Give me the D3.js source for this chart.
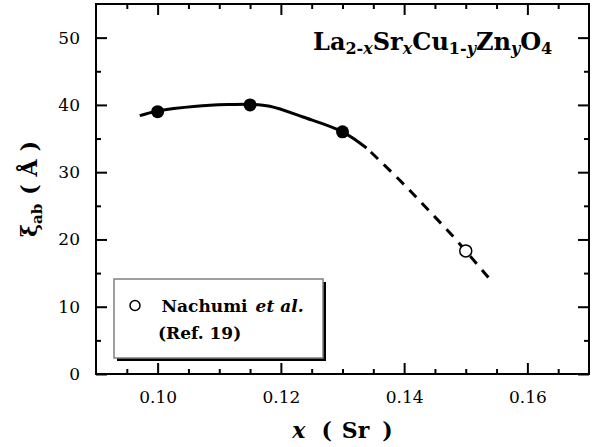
<!DOCTYPE html>
<html>
<head>
<meta charset="utf-8">
<script src="https://cdn.jsdelivr.net/npm/d3@7"></script>
<style>
  html, body { margin: 0; padding: 0; background: #fff; }
  svg { display: block; }
</style>
</head>
<body>
<svg id="chart" width="593" height="447"></svg>
<script>
// ---- data ----
const xDomain = [0.09, 0.17];
const yDomain = [0, 55];
const xMajorTicks = [0.10, 0.12, 0.14, 0.16];
const xMinorTicks = [0.095, 0.105, 0.11, 0.115, 0.125, 0.13, 0.135, 0.145, 0.15, 0.155, 0.165];
const yMajorTicks = [0, 10, 20, 30, 40, 50];
const yMinorTicks = [5, 15, 25, 35, 45];

// measured points (filled) and Nachumi et al. (open)
const filledX = [0.100, 0.115, 0.130];
const filledY = [39.0, 40.0, 36.0];
const openX = [0.150];
const openY = [18.3];

// guide-to-the-eye curve: solid part and dashed extrapolation
const solidX = [0.0971, 0.100, 0.1063, 0.1117, 0.115, 0.1182, 0.1236, 0.130, 0.1339];
const solidY = [38.4, 39.1, 39.8, 40.05, 40.1, 39.8, 38.2, 36.0, 33.6];
const dashX = [0.1339, 0.1393, 0.1437, 0.148, 0.150, 0.1538];
const dashY = [33.6, 28.8, 24.6, 20.4, 18.3, 14.2];

const legendLines = ["Nachumi", "et al.", "(Ref. 19)"];

// ---- layout ----
const L = 96, R = 589, T = 4, B = 374;
const svg = d3.select("#chart");
const x = d3.scaleLinear().domain(xDomain).range([L, R]);
const y = d3.scaleLinear().domain(yDomain).range([B, T]);

const FONT = '"DejaVu Serif", serif';
const MAJ = 11, MIN = 5;

function styleAxis(g) {
  g.select(".domain").remove();
  g.selectAll(".tick line").attr("stroke", "#000").attr("stroke-width", 2);
  g.selectAll("text").attr("fill", "#000").style("font-family", FONT).style("font-size", "17px");
}

// bottom
svg.append("g").attr("transform", `translate(0,${B})`)
  .call(d3.axisBottom(x).tickValues(xMajorTicks).tickSize(-MAJ).tickPadding(17).tickFormat(d3.format(".2f")))
  .call(styleAxis);
svg.append("g").attr("transform", `translate(0,${B})`)
  .call(d3.axisBottom(x).tickValues(xMinorTicks).tickSize(-MIN).tickFormat(""))
  .call(styleAxis);
// top
svg.append("g").attr("transform", `translate(0,${T})`)
  .call(d3.axisTop(x).tickValues(xMajorTicks).tickSize(-MAJ).tickFormat(""))
  .call(styleAxis);
svg.append("g").attr("transform", `translate(0,${T})`)
  .call(d3.axisTop(x).tickValues(xMinorTicks).tickSize(-MIN).tickFormat(""))
  .call(styleAxis);
// left
svg.append("g").attr("transform", `translate(${L},0)`)
  .call(d3.axisLeft(y).tickValues(yMajorTicks).tickSize(-MAJ).tickPadding(16).tickFormat(d3.format("d")))
  .call(styleAxis);
svg.append("g").attr("transform", `translate(${L},0)`)
  .call(d3.axisLeft(y).tickValues(yMinorTicks).tickSize(-MIN).tickFormat(""))
  .call(styleAxis);
// right
svg.append("g").attr("transform", `translate(${R},0)`)
  .call(d3.axisRight(y).tickValues(yMajorTicks).tickSize(-MAJ).tickFormat(""))
  .call(styleAxis);
svg.append("g").attr("transform", `translate(${R},0)`)
  .call(d3.axisRight(y).tickValues(yMinorTicks).tickSize(-MIN).tickFormat(""))
  .call(styleAxis);

// frame
svg.append("rect").attr("x", L).attr("y", T).attr("width", R - L).attr("height", B - T)
  .attr("fill", "none").attr("stroke", "#000").attr("stroke-width", 2);

// curves
const line = d3.line().x(d => x(d[0])).y(d => y(d[1])).curve(d3.curveCatmullRom.alpha(0.5));
svg.append("path").datum(d3.zip(solidX, solidY)).attr("d", line)
  .attr("fill", "none").attr("stroke", "#000").attr("stroke-width", 3);
svg.append("path").datum(d3.zip(dashX, dashY)).attr("d", line)
  .attr("fill", "none").attr("stroke", "#000").attr("stroke-width", 3)
  .attr("stroke-dasharray", "10,8").attr("stroke-dashoffset", -6);

// points
svg.append("g").selectAll("circle").data(d3.zip(filledX, filledY)).join("circle")
  .attr("cx", d => x(d[0])).attr("cy", d => y(d[1])).attr("r", 6.5).attr("fill", "#000");
svg.append("g").selectAll("circle").data(d3.zip(openX, openY)).join("circle")
  .attr("cx", d => x(d[0])).attr("cy", d => y(d[1])).attr("r", 6)
  .attr("fill", "#fff").attr("stroke", "#000").attr("stroke-width", 1.5);

// compound title
const titleParts = [["La",0,0],["2-",1,0],["x",1,1],["Sr",0,0],["x",1,1],["Cu",0,0],["1-",1,0],["y",1,1],["Zn",0,0],["y",1,1],["O",0,0],["4",1,0]];
const title = svg.append("text").attr("x", 313).attr("y", 50)
  .style("font-family", FONT).style("font-weight", "bold").style("font-size", "24px").attr("fill", "#000");
let prevSub = 0;
titleParts.forEach(([t, sub, it]) => {
  const ts = title.append("tspan").text(t);
  const shift = (sub ? 4 : 0) - (prevSub ? 4 : 0);
  if (shift) ts.attr("dy", shift);
  if (sub) ts.style("font-size", "16px");
  if (it) ts.style("font-style", "italic");
  prevSub = sub;
});

// x-axis title
const xt = svg.append("text").attr("x", (L + R) / 2).attr("y", 438).attr("text-anchor", "middle")
  .style("font-family", FONT).style("font-weight", "bold").style("font-size", "22px").attr("fill", "#000");
xt.append("tspan").text("x").style("font-style", "italic");
xt.append("tspan").attr("dx", 16).text("(");
xt.append("tspan").attr("dx", 10).text("Sr");
xt.append("tspan").attr("dx", 13).text(")");

// y-axis title
const yt = svg.append("text").attr("transform", `translate(37,${(T + B) / 2}) rotate(-90)`)
  .attr("text-anchor", "middle")
  .style("font-family", FONT).style("font-weight", "bold").style("font-size", "22px").attr("fill", "#000");
yt.append("tspan").text("ξ");
yt.append("tspan").attr("dy", 5).style("font-size", "15px").text("ab");
yt.append("tspan").attr("dy", -5).attr("dx", 9).text("(");
yt.append("tspan").attr("dx", 8).text("Å");
yt.append("tspan").attr("dx", 8).text(")");

// legend
const lg = svg.append("g");
lg.append("rect").attr("x", 117).attr("y", 282).attr("width", 209).attr("height", 79).attr("fill", "#000");
lg.append("rect").attr("x", 114).attr("y", 279).attr("width", 209).attr("height", 79)
  .attr("fill", "#fff").attr("stroke", "#808080").attr("stroke-width", 1.5);
lg.append("circle").attr("cx", 135).attr("cy", 305.5).attr("r", 5)
  .attr("fill", "#fff").attr("stroke", "#000").attr("stroke-width", 1.5);
const l1 = lg.append("text").attr("x", 161.5).attr("y", 311.5)
  .style("font-family", FONT).style("font-weight", "bold").style("font-size", "17px")
  .attr("fill", "#000");
l1.append("tspan").text(legendLines[0]);
l1.append("tspan").attr("dx", 8).style("font-style", "italic").text(legendLines[1]);
lg.append("text").attr("x", 158).attr("y", 339)
  .style("font-family", FONT).style("font-weight", "bold").style("font-size", "17px")
  .attr("fill", "#000")
  .text(legendLines[2]);
</script>
</body>
</html>
